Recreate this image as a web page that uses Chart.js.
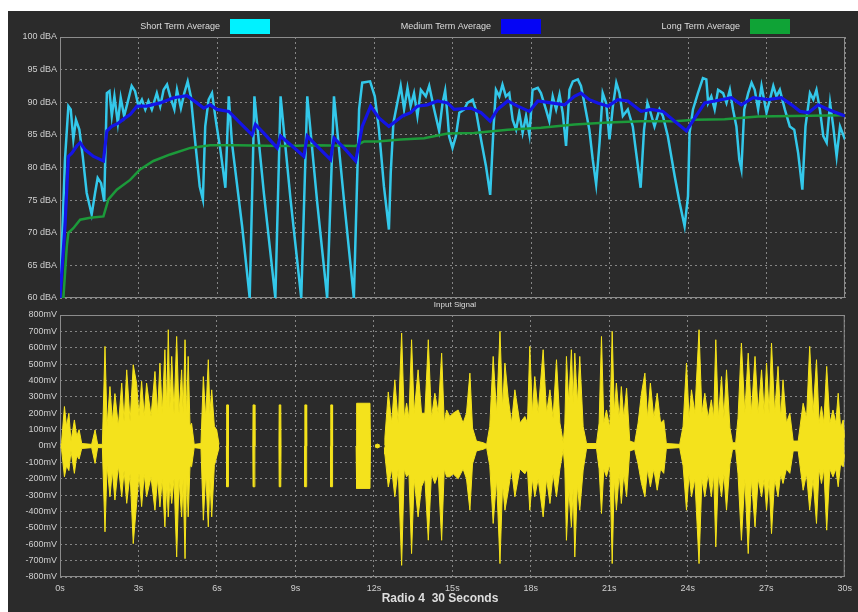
<!DOCTYPE html>
<html>
<head>
<meta charset="utf-8">
<script src="https://cdn.jsdelivr.net/npm/chart.js@4.4.0/dist/chart.umd.min.js"></script>
<style>
  html, body { margin: 0; padding: 0; background: #fff; overflow: hidden; }
  #panel { position: absolute; left: 8px; top: 11px; width: 850px; height: 601px; background: #2b2b2b; }
  #levelBox { position: absolute; left: 0; top: 0; width: 850px; height: 300px; }
  #signalBox { position: absolute; left: 0; top: 289px; width: 850px; height: 312px; }
</style>
</head>
<body>
<div id="panel">
  <div id="levelBox"><canvas id="levelChart"></canvas></div>
  <div id="signalBox"><canvas id="signalChart"></canvas></div>
</div>
<script>
// --- level meter data (dBA), times in seconds ---
const shortTimes = [
  0, 0.19, 0.32, 0.41, 0.51, 0.61, 0.74, 0.87, 1.02, 1.21,
  1.34, 1.44, 1.57, 1.69, 1.79, 1.89, 1.98, 2.08, 2.21, 2.32,
  2.45, 2.58, 2.74, 2.87, 3.00, 3.13, 3.26, 3.38, 3.51, 3.70,
  3.83, 3.96, 4.09, 4.21, 4.37, 4.47, 4.62, 4.75, 4.88, 5.00,
  5.17, 5.34, 5.46, 5.55, 5.68, 5.81, 5.97, 6.13, 6.32, 6.45,
  6.57, 6.96, 7.25, 7.43, 7.79, 8.23, 8.43, 8.81, 9.22, 9.45,
  9.83, 10.21, 10.47, 10.85, 11.23, 11.43, 11.55, 11.85, 12.03, 12.19,
  12.38, 12.57, 12.64, 12.74, 12.89, 13.02, 13.15, 13.28, 13.40, 13.53,
  13.66, 13.79, 13.98, 14.11, 14.30, 14.49, 14.62, 14.72, 14.81, 14.87,
  15.00, 15.13, 15.26, 15.45, 15.57, 15.77, 15.89, 16.09, 16.28, 16.44,
  16.57, 16.66, 16.79, 16.91, 17.04, 17.17, 17.30, 17.43, 17.55, 17.68,
  17.81, 17.94, 18.06, 18.26, 18.38, 18.57, 18.70, 18.83, 18.96, 19.09,
  19.21, 19.34, 19.47, 19.60, 19.79, 19.91, 20.04, 20.23, 20.36, 20.49,
  20.62, 20.74, 20.87, 21.00, 21.13, 21.26, 21.38, 21.51, 21.70, 21.89,
  22.02, 22.19, 22.32, 22.45, 22.57, 22.72, 22.91, 23.04, 23.23, 23.49,
  23.68, 23.87, 24.00, 24.06, 24.19, 24.38, 24.57, 24.70, 24.77, 24.89,
  25.02, 25.15, 25.34, 25.47, 25.60, 25.72, 25.85, 25.96, 26.04, 26.15,
  26.30, 26.43, 26.55, 26.68, 26.81, 27.00, 27.13, 27.26, 27.38, 27.51,
  27.70, 27.89, 28.06, 28.21, 28.37, 28.49, 28.66, 28.79, 28.91, 29.04,
  29.17, 29.30, 29.43, 29.55, 29.68, 29.81, 30.00
];
const shortValues = [
  60, 81.2, 89.4, 88.9, 84.3, 87.3, 85.8, 81.7, 76.1, 72.8,
  76.1, 78.4, 77.6, 74.8, 91.4, 91.7, 87.9, 90.9, 86.8, 90.7,
  87.9, 89.9, 92.5, 91.7, 89.4, 90.4, 88.9, 90.2, 88.9, 91.4,
  89.4, 91.9, 92.7, 90.9, 88.9, 91.9, 89.1, 91.4, 93.2, 90.9,
  83.8, 77.1, 75.1, 86.3, 90.4, 91.4, 86.8, 82.7, 76.9, 90.9,
  83.8, 71.0, 60, 90.9, 76.1, 60, 90.9, 75.1, 60, 90.9,
  74.6, 60, 90.9, 75.1, 60, 88.9, 93.0, 93.2, 90.9, 85.8,
  77.1, 70.5, 79.2, 86.8, 89.9, 92.5, 88.9, 92.2, 89.4, 91.4,
  87.9, 91.9, 90.9, 92.5, 88.9, 85.6, 89.9, 91.8, 88.0, 84.8,
  83.0, 84.8, 88.4, 88.9, 89.9, 90.4, 88.9, 84.3, 80.2, 75.8,
  86.3, 91.9, 90.9, 92.7, 90.9, 91.4, 87.3, 85.8, 88.4, 85.3,
  87.9, 85.0, 91.9, 92.2, 91.4, 88.9, 87.1, 90.9, 88.9, 91.2,
  88.4, 83.3, 91.9, 93.2, 93.5, 92.5, 89.9, 85.8, 81.2, 77.4,
  83.8, 91.4, 89.9, 84.3, 89.4, 93.0, 91.4, 87.9, 88.9, 86.3,
  82.2, 76.9, 85.8, 89.9, 88.4, 86.3, 88.9, 87.9, 84.8, 78.7,
  74.6, 71.0, 75.6, 85.3, 88.9, 91.4, 93.7, 93.5, 89.9, 90.9,
  88.9, 91.9, 91.4, 89.9, 91.9, 88.9, 86.3, 81.2, 79.7, 88.9,
  91.4, 93.0, 91.9, 88.9, 92.5, 88.4, 90.4, 92.5, 90.9, 91.9,
  88.9, 86.3, 85.8, 82.2, 76.6, 86.3, 91.4, 90.4, 91.9, 88.9,
  84.8, 83.8, 89.9, 86.3, 81.7, 86.3, 84.3
];

const mediumTimes = [
  0, 0.19, 0.32, 0.45, 0.64, 0.77, 0.96, 1.28, 1.66, 1.79,
  1.98, 2.23, 2.49, 2.68, 2.94, 3.32, 3.83, 4.34, 4.85, 5.23,
  5.49, 5.74, 6.00, 6.45, 6.89, 7.34, 7.47, 7.85, 8.30, 8.43,
  8.87, 9.32, 9.45, 9.89, 10.34, 10.47, 10.85, 11.30, 11.55, 11.87,
  12.19, 12.57, 12.83, 13.09, 13.40, 13.66, 14.04, 14.43, 14.81, 15.06,
  15.70, 16.09, 16.44, 16.72, 17.11, 17.49, 17.94, 18.26, 18.77, 19.28,
  19.66, 19.91, 20.23, 20.55, 20.94, 21.32, 21.70, 22.21, 22.60, 23.04,
  23.49, 23.94, 24.26, 24.64, 25.02, 25.66, 26.04, 26.49, 27.06, 27.57,
  27.96, 28.28, 28.60, 28.98, 29.36, 30
];
const mediumValues = [
  60, 71, 81.7, 82.2, 83.3, 83.8, 82.7, 81.7, 81.0, 85.6,
  86.3, 86.8, 87.6, 88.1, 89.4, 89.4, 89.9, 90.7, 91.0, 89.9,
  89.1, 89.6, 88.9, 88.6, 86.8, 85.0, 86.6, 85.0, 83.0, 84.8,
  83.3, 81.7, 84.8, 83.0, 81.2, 84.5, 83.0, 81.0, 86.3, 89.4,
  87.6, 86.3, 87.1, 87.9, 88.4, 89.4, 89.6, 90.2, 89.9, 88.9,
  89.1, 88.4, 87.1, 88.9, 90.2, 89.4, 88.6, 90.2, 89.9, 89.6,
  90.9, 91.4, 90.4, 89.9, 89.4, 90.4, 90.2, 88.6, 88.9, 88.6,
  87.1, 85.6, 87.6, 89.9, 90.2, 90.7, 89.6, 90.7, 90.4, 90.7,
  89.6, 88.6, 88.4, 89.6, 88.9, 87.9
];

const longTimes = [
  0, 0.13, 0.26, 0.32, 0.51, 0.77, 1.15, 1.66, 1.85, 2.17,
  2.68, 3.06, 3.57, 4.21, 4.98, 5.74, 6.77, 8.55, 9.83, 11.30,
  11.62, 12.13, 13.02, 13.92, 14.81, 15.83, 17.11, 18.38, 19.66, 20.94,
  22.21, 23.49, 24.26, 25.40, 26.68, 27.96, 30
];
const longValues = [
  60, 60, 67.9, 70, 70.7, 72, 72.3, 72.5, 75.1, 76.6,
  78.1, 79.7, 81.0, 82.0, 83.0, 83.4, 83.4, 83.3, 83.4, 83.3,
  84.0, 84.0, 84.3, 84.5, 85.2, 85.3, 85.8, 86.1, 86.6, 86.9,
  87.1, 87.1, 87.3, 87.4, 87.8, 87.9, 88.0
];

// --- input signal envelope (mV): upper and lower peaks, null = silence ---
const waveTimes = [
  // speech 0s - 6s
  0.03, 0.06, 0.17, 0.25, 0.34, 0.42, 0.55, 0.64, 0.73, 0.83,
  1.21, 1.34, 1.44, 1.62, 1.72, 1.80, 1.91, 2.00, 2.10, 2.23,
  2.36, 2.45, 2.55, 2.68, 2.80, 2.93, 3.02, 3.12, 3.22, 3.31,
  3.48, 3.63, 3.73, 3.82, 3.91, 4.01, 4.08, 4.14, 4.20, 4.27,
  4.36, 4.46, 4.55, 4.65, 4.71, 4.78, 4.84, 4.90, 4.97, 5.03,
  5.13, 5.39, 5.48, 5.57, 5.67, 5.73, 5.80, 5.90, 5.99, 6.08,
  // pips and tone block
  6.20, 6.36, 6.37, 6.43, 6.44, 6.60, 7.37, 7.38, 7.44, 7.45,
  7.60, 8.37, 8.38, 8.44, 8.45, 8.60, 9.35, 9.36, 9.42, 9.43,
  9.60, 10.34, 10.35, 10.41, 10.42, 10.60, 11.32, 11.34, 11.85, 11.87,
  11.95, 12.04, 12.13, 12.23, 12.32,
  // speech 12.4s - 30s
  12.40, 12.42, 12.55, 12.68, 12.80, 12.93, 13.06, 13.16, 13.25, 13.34,
  13.44, 13.54, 13.69, 13.82, 13.95, 14.08, 14.20, 14.33, 14.46, 14.59,
  14.69, 14.78, 14.90, 15.03, 15.22, 15.41, 15.54, 15.67, 15.77, 15.92,
  16.18, 16.31, 16.43, 16.56, 16.69, 16.82, 16.92, 17.01, 17.13, 17.26,
  17.39, 17.58, 17.77, 17.87, 17.96, 18.06, 18.15, 18.28, 18.47, 18.60,
  18.73, 18.85, 18.98, 19.11, 19.24, 19.30, 19.36, 19.45, 19.55, 19.62,
  19.68, 19.78, 19.87, 20.00, 20.13, 20.51, 20.61, 20.70, 20.79, 20.89,
  21.02, 21.11, 21.19, 21.27, 21.38, 21.46, 21.55, 21.66, 21.78, 21.97,
  22.10, 22.23, 22.36, 22.46, 22.57, 22.70, 22.83, 22.96, 23.08, 23.18,
  23.69, 23.82, 23.95, 24.05, 24.14, 24.27, 24.43, 24.54, 24.65, 24.78,
  24.90, 24.99, 25.07, 25.17, 25.29, 25.38, 25.48, 25.61, 25.71, 25.83,
  25.92, 26.05, 26.18, 26.31, 26.43, 26.57, 26.69, 26.82, 26.92, 27.01,
  27.11, 27.20, 27.32, 27.45, 27.55, 27.64, 27.77, 27.90, 28.03, 28.22,
  28.41, 28.54, 28.66, 28.79, 28.92, 29.02, 29.11, 29.20, 29.31, 29.43,
  29.55, 29.66, 29.75, 29.84, 29.94, 30.00
];
const waveUpper = [
  5, 20, 241, 120, 200, 30, 159, 60, 100, 15,
  10, 98, 10, 10, 608, 120, 363, 150, 320, 120,
  384, 150, 465, 150, 496, 380, 180, 395, 180, 384,
  180, 455, 200, 506, 200, 588, 230, 710, 230, 547,
  200, 669, 200, 465, 200, 649, 170, 547, 120, 139,
  10, 15, 424, 170, 527, 200, 343, 120, 98, 10,
  null, 0, 251, 251, 0, null, 0, 251, 251, 0,
  null, 0, 251, 251, 0, null, 0, 251, 251, 0,
  null, 0, 251, 251, 0, null, 0, 261, 261, 0,
  null, 5, 12, 5, null,
  10, 50, 330, 140, 404, 140, 690, 170, 261, 170,
  649, 200, 465, 200, 200, 649, 170, 322, 200, 567,
  140, 220, 180, 200, 220, 140, 200, 445, 110, 30,
  20, 10, 120, 547, 200, 700, 230, 506, 300, 140,
  343, 140, 180, 140, 608, 200, 424, 200, 588, 200,
  343, 170, 527, 140, 20, 140, 547, 260, 588, 260,
  567, 260, 547, 118, 15, 15, 140, 669, 140, 220,
  110, 700, 200, 384, 170, 363, 170, 353, 30, 20,
  140, 322, 445, 170, 384, 170, 322, 140, 159, 15,
  10, 120, 506, 170, 343, 200, 710, 200, 322, 170,
  282, 170, 649, 170, 424, 170, 465, 110, 20, 20,
  170, 629, 200, 567, 200, 547, 200, 465, 200, 506,
  200, 629, 200, 486, 170, 404, 140, 200, 30, 30,
  261, 170, 608, 200, 527, 140, 241, 140, 486, 140,
  220, 140, 322, 110, 159, 50
];
const waveLower = [
  -5, -20, -188, -120, -150, -30, -167, -60, -80, -15,
  -10, -106, -10, -10, -524, -120, -310, -150, -330, -120,
  -310, -150, -350, -170, -596, -350, -170, -370, -170, -310,
  -190, -392, -200, -372, -200, -494, -230, -433, -220, -351,
  -200, -678, -200, -433, -200, -688, -170, -433, -120, -127,
  -10, -15, -453, -170, -494, -200, -433, -120, -65, -10,
  null, 0, -249, -249, 0, null, 0, -249, -249, 0,
  null, 0, -249, -249, 0, null, 0, -249, -249, 0,
  null, 0, -249, -249, 0, null, 0, -259, -259, 0,
  null, -5, -12, -5, null,
  -10, -50, -250, -140, -310, -140, -729, -140, -188, -170,
  -657, -200, -433, -249, -200, -575, -170, -229, -170, -576,
  -140, -188, -188, -170, -200, -140, -200, -392, -110, -30,
  -20, -10, -120, -473, -200, -718, -230, -392, -280, -140,
  -310, -140, -170, -140, -392, -200, -310, -200, -433, -200,
  -351, -170, -310, -140, -20, -140, -576, -260, -494, -260,
  -678, -240, -392, -147, -15, -15, -140, -412, -140, -188,
  -110, -718, -200, -392, -170, -351, -170, -310, -30, -20,
  -110, -229, -310, -140, -249, -140, -270, -140, -167, -15,
  -10, -120, -392, -170, -310, -200, -718, -200, -310, -170,
  -310, -170, -616, -170, -310, -170, -392, -110, -20, -20,
  -170, -576, -200, -657, -200, -494, -200, -310, -200, -392,
  -200, -535, -200, -310, -170, -229, -140, -167, -30, -30,
  -270, -170, -392, -200, -473, -140, -229, -140, -514, -140,
  -188, -140, -249, -110, -127, -50
];

const FONT = '"Liberation Sans", Arial, sans-serif';
const TEXT = '#cfcfcf';
const GRID = '#858585';

function pairs(xs, ys) {
  return xs.map((x, i) => ({ x: x, y: ys[i] }));
}

// solid frame around the plot area
const framePlugin = {
  id: 'frame',
  beforeDatasetsDraw(chart) {
    const a = chart.chartArea, ctx = chart.ctx;
    ctx.save();
    ctx.strokeStyle = '#8c8c8c';
    ctx.lineWidth = 1;
    ctx.strokeRect(a.left + 0.5, a.top + 0.5, a.right - a.left - 1, a.bottom - a.top - 1);
    ctx.restore();
  }
};

// legend: label text followed by a colour box
const legendBoxLeft = [222, 493, 742];
const legendPlugin = {
  id: 'boxLegend',
  afterDraw(chart) {
    const ctx = chart.ctx;
    ctx.save();
    ctx.font = '9px ' + FONT;
    ctx.textAlign = 'right';
    ctx.textBaseline = 'middle';
    chart.data.datasets.forEach(ds => {
      const bx = legendBoxLeft[ds.legendIndex];
      ctx.fillStyle = '#dedede';
      ctx.fillText(ds.label, bx - 10, 16);
      ctx.fillStyle = ds.legendColor;
      ctx.fillRect(bx, 8, 40, 15);
    });
    ctx.restore();
  }
};

// captions of the lower panel
const captionPlugin = {
  id: 'captions',
  afterDraw(chart) {
    const ctx = chart.ctx;
    ctx.save();
    ctx.fillStyle = '#dedede';
    ctx.textAlign = 'center';
    ctx.textBaseline = 'middle';
    ctx.font = '8px ' + FONT;
    ctx.fillText('Input Signal', 447, 5);
    ctx.font = 'bold 12px ' + FONT;
    ctx.fillText('Radio 4  30 Seconds', 432, 299);
    ctx.restore();
  }
};

function xAxis(showLabels) {
  return {
    type: 'linear', min: 0, max: 30,
    grid: { color: GRID, drawTicks: false },
    border: { display: false, dash: [2, 3] },
    ticks: {
      display: showLabels, stepSize: 3, padding: 6,
      color: TEXT, font: { family: FONT, size: 9 },
      callback: v => v + 's'
    },
    afterFit: s => { s.height = showLabels ? 35 : 0; }
  };
}

function yAxis(min, max, step, unit) {
  return {
    min: min, max: max,
    grid: { color: GRID, drawTicks: false },
    border: { display: false, dash: [2, 3] },
    ticks: {
      stepSize: step, padding: 3,
      color: TEXT, font: { family: FONT, size: 9 },
      callback: v => v + unit
    },
    afterFit: s => { s.width = 52; }
  };
}

Chart.defaults.animation = false;
Chart.defaults.responsive = false;

const levelCanvas = document.getElementById('levelChart');
levelCanvas.width = 850; levelCanvas.height = 300;
new Chart(levelCanvas, {
  type: 'line',
  data: {
    datasets: [
      { label: 'Short Term Average', data: pairs(shortTimes, shortValues),
        borderColor: '#33c8ea', borderWidth: 2.5, legendColor: '#00f2ff', legendIndex: 0, order: 2 },
      { label: 'Medium Term Average', data: pairs(mediumTimes, mediumValues),
        borderColor: '#1414e6', borderWidth: 3.2, legendColor: '#0505f5', legendIndex: 1, order: 0 },
      { label: 'Long Term Average', data: pairs(longTimes, longValues),
        borderColor: '#1c9a3a', borderWidth: 2.5, legendColor: '#0fa336', legendIndex: 2, order: 1 }
    ]
  },
  options: {
    responsive: false,
    layout: { padding: { top: 26, right: 13, bottom: 13, left: 0 } },
    elements: { point: { radius: 0 }, line: { tension: 0 } },
    plugins: { legend: { display: false }, tooltip: { enabled: false } },
    scales: {
      x: xAxis(false),
      y: yAxis(60, 100, 5, ' dBA')
    }
  },
  plugins: [framePlugin, legendPlugin]
});

const signalCanvas = document.getElementById('signalChart');
signalCanvas.width = 850; signalCanvas.height = 312;
new Chart(signalCanvas, {
  type: 'line',
  data: {
    datasets: [
      { label: 'upper', data: pairs(waveTimes, waveUpper),
        borderColor: '#f4e21c', backgroundColor: '#f4e21c', borderWidth: 1, fill: '+1', spanGaps: false },
      { label: 'lower', data: pairs(waveTimes, waveLower),
        borderColor: '#f4e21c', backgroundColor: '#f4e21c', borderWidth: 1, fill: false, spanGaps: false }
    ]
  },
  options: {
    responsive: false,
    layout: { padding: { top: 15, right: 13, bottom: 0, left: 0 } },
    elements: { point: { radius: 0 }, line: { tension: 0 } },
    plugins: { legend: { display: false }, tooltip: { enabled: false } },
    scales: {
      x: xAxis(true),
      y: yAxis(-800, 800, 100, 'mV')
    }
  },
  plugins: [framePlugin, captionPlugin]
});
</script>
</body>
</html>
